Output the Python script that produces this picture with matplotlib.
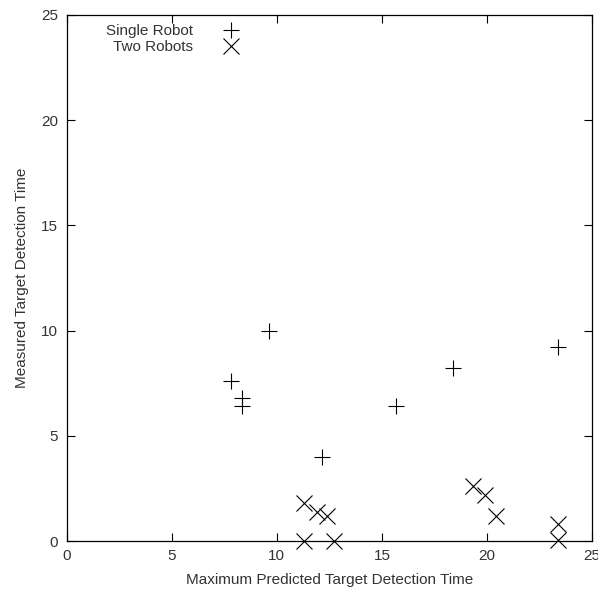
import matplotlib.pyplot as plt

plt.rcParams['font.family'] = ['Liberation Sans', 'DejaVu Sans']

# Single Robot points
single_x = [7.8, 8.35, 8.35, 9.65, 12.15, 15.65, 18.4, 23.4]
single_y = [7.6, 6.8, 6.4, 10.0, 4.0, 6.4, 8.2, 9.2]

# Two Robots points
two_x = [11.3, 11.9, 12.4, 11.3, 12.7, 19.35, 19.9, 20.45, 23.4, 23.4]
two_y = [1.8, 1.4, 1.2, 0.0, 0.0, 2.6, 2.2, 1.2, 0.8, 0.05]

text_col = '#333333'

fig = plt.figure(figsize=(5.98, 5.92), dpi=100)
ax = fig.add_axes([0.1115, 0.0861, 0.99 - 0.1115, 0.9747 - 0.0861])

ax.plot(single_x, single_y, linestyle='none', marker='+', markersize=12,
        markeredgewidth=0.8, color='black', label='Single Robot', clip_on=False)
ax.plot(two_x, two_y, linestyle='none', marker='x', markersize=11,
        markeredgewidth=0.8, color='black', label='Two Robots', clip_on=False)

ax.set_xlim(0, 25)
ax.set_ylim(0, 25)
ax.set_xticks([0, 5, 10, 15, 20, 25])
ax.set_yticks([0, 5, 10, 15, 20, 25])
ax.tick_params(direction='in', length=6, width=0.8, top=True, right=True,
               labelsize=11, labelcolor=text_col, pad=6)
for s in ax.spines.values():
    s.set_linewidth(0.9)

ax.set_xlabel('Maximum Predicted Target Detection Time', fontsize=11, color=text_col, labelpad=7)
ax.set_ylabel('Measured Target Detection Time', fontsize=11, color=text_col, labelpad=9)

leg = ax.legend(loc='upper left', bbox_to_anchor=(0.055, 1.003), frameon=False,
                markerfirst=False, fontsize=11, handlelength=1.5,
                handletextpad=1.7, labelspacing=0.12, borderpad=0.2)
for t in leg.get_texts():
    t.set_color(text_col)
    t.set_ha('right')
leg._legend_box.align = 'right'

plt.savefig('out.png', dpi=100)
